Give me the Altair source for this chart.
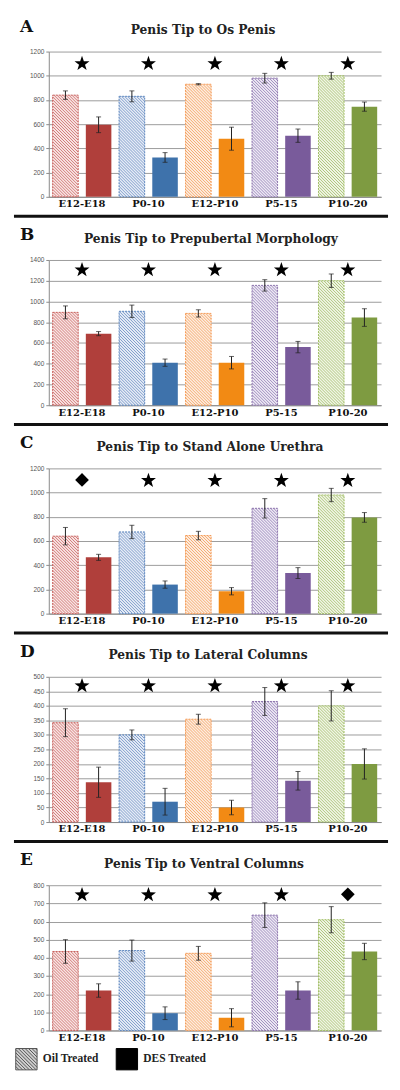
import math
import altair as alt
import pandas as pd

# ---------------- data ----------------
groups = ["E12-E18", "P0-10", "E12-P10", "P5-15", "P10-20"]
treatments = ["Oil", "DES"]

letters = ["A", "B", "C", "D", "E"]
titles = [
    "Penis Tip to Os Penis",
    "Penis Tip to Prepubertal Morphology",
    "Penis Tip to Stand Alone Urethra",
    "Penis Tip to Lateral Columns",
    "Penis Tip to Ventral Columns",
]

a_oil = [840, 830, 930, 980, 1000]
a_oil_err = [35, 45, 5, 40, 28]
a_des = [595, 325, 480, 505, 745]
a_des_err = [65, 40, 95, 55, 38]

b_oil = [895, 905, 885, 1155, 1200]
b_oil_err = [62, 60, 35, 55, 65]
b_des = [690, 410, 410, 560, 845]
b_des_err = [20, 35, 60, 55, 85]

c_oil = [640, 675, 645, 870, 980]
c_oil_err = [72, 55, 35, 80, 55]
c_des = [465, 240, 185, 335, 795]
c_des_err = [25, 30, 30, 45, 40]

d_oil = [342, 300, 354, 415, 400]
d_oil_err = [48, 17, 17, 48, 52]
d_des = [137, 70, 50, 142, 200]
d_des_err = [52, 46, 25, 32, 52]

e_oil = [435, 440, 425, 635, 610]
e_oil_err = [65, 58, 38, 68, 72]
e_des = [220, 95, 70, 220, 435]
e_des_err = [37, 35, 50, 48, 45]

a_ticks = [0, 200, 400, 600, 800, 1000, 1200]
b_ticks = [0, 200, 400, 600, 800, 1000, 1200, 1400]
c_ticks = [0, 200, 400, 600, 800, 1000, 1200]
d_ticks = [0, 50, 100, 150, 200, 250, 300, 350, 400, 450, 500]
e_ticks = [0, 100, 200, 300, 400, 500, 600, 700, 800]

a_marks = ["star", "star", "star", "star", "star"]
b_marks = ["star", "star", "star", "star", "star"]
c_marks = ["diamond", "star", "star", "star", "star"]
d_marks = ["star", "star", "star", "star", "star"]
e_marks = ["star", "star", "star", "star", "diamond"]
mark_y = [1105, 1310, 1105, 471, 750]

legend_labels = ["Oil Treated", "DES Treated"]

# ---------------- styles ----------------
W = 334
H = 146
SPACING = 63.5
des_colors = ["#B03F3B", "#3E72AB", "#F28A14", "#795B9B", "#7E9B41"]
oil_border = ["#C8605C", "#5F88C0", "#F59A55", "#8C74AC", "#A2BE66"]
oil_line = ["#D27C7A", "#809DCB", "#F4AA70", "#A08EBE", "#AFC67E"]
oil_bg = ["#F8E4E3", "#E6ECF6", "#FDEDE0", "#EDE9F4", "#F0F5E5"]

SERIF = "DejaVu Serif"
SANS = "Liberation Sans"

# band geometry (shared by the band scales and the hatch decoration)
P_IN, P_OUT = 0.23, 0.117
step_group = W / len(groups)
step_off = step_group / (2 - P_IN + 2 * P_OUT)
BAR_W = step_off * (1 - P_IN)
OIL_X0 = P_OUT * step_off          # start of the oil bar inside its group, px
HATCH_PERIOD = 3.0                 # horizontal distance between hatch lines, px


def star_path(n=5, inner=0.40):
    pts = []
    for i in range(2 * n):
        r = 1.0 if i % 2 == 0 else inner
        a = -math.pi / 2 + i * math.pi / n
        pts.append((r * math.cos(a), r * math.sin(a) + 0.08))
    return "M" + "L".join(f"{x:.3f},{y:.3f}" for x, y in pts) + "Z"


def hatch_path(step=0.32):
    d = "M-1,-1L1,-1L1,1L-1,1Z"
    c = -2 + step
    while c < 2 - 1e-6:
        if c >= 0:
            x1, y1, x2, y2 = -1 + c, -1, 1, 1 - c
        else:
            x1, y1, x2, y2 = -1, -1 - c, 1 + c, 1
        d += f"M{x1:.2f},{y1:.2f}L{x2:.2f},{y2:.2f}"
        c += step
    return d


STAR = star_path()
HATCH = hatch_path()


def hatch_rows(oil, ymax):
    """Diagonal hatch segments inside each oil bar, derived from the bar values."""
    rows = []
    for i, (g, v) in enumerate(zip(groups, oil)):
        h = v / ymax * H
        x0 = i * step_group + OIL_X0
        m = 0
        while True:
            c = HATCH_PERIOD * (m + 0.5)
            if c >= BAR_W + h:
                break
            xa, xb = max(0.0, c - h), min(BAR_W, c)
            va, vb = c - xa, c - xb
            rows.append({
                "group": g,
                "hx": (x0 + xa) / step_group,
                "hx2": (x0 + xb) / step_group,
                "hy": va / H * ymax,
                "hy2": vb / H * ymax,
            })
            m += 1
    return pd.DataFrame(rows)


def panel(idx, oil, oil_err, des, des_err, ticks, marks, my, separator=True, legend=False):
    ymax = ticks[-1]
    df = pd.DataFrame({
        "group": groups * 2,
        "treatment": ["Oil"] * 5 + ["DES"] * 5,
        "value": oil + des,
        "err": oil_err + des_err,
    })
    base = alt.Chart(df).transform_calculate(
        lo="datum.value - datum.err", hi="datum.value + datum.err"
    )
    x_scale = alt.Scale(domain=groups, paddingInner=0, paddingOuter=0)
    x_enc = alt.X(
        "group:N",
        sort=groups,
        scale=x_scale,
        axis=alt.Axis(
            title=None, labelAngle=0, ticks=False, labelFont=SERIF, labelFontWeight="bold",
            labelFontSize=10, labelColor="#111", labelPadding=2, domainColor="#8a8a8a",
            grid=False,
        ),
    )
    x_enc_noaxis = alt.X("group:N", sort=groups, scale=x_scale, axis=None)
    xo_enc = alt.XOffset(
        "treatment:N",
        scale=alt.Scale(domain=treatments, paddingInner=P_IN, paddingOuter=P_OUT),
    )
    y_scale = alt.Scale(domain=[0, ymax], nice=False, zero=True)
    y_axis = alt.Axis(
        title=None, values=ticks, format="d", labelFont=SANS, labelFontSize=6.5,
        labelColor="#555", labelPadding=2, tickSize=3, tickColor="#8a8a8a",
        domainColor="#8a8a8a", grid=True, gridColor="#9c9c9c", gridWidth=1,
        labelOverlap=False, labelFlush=False,
    )

    def Y(field):
        return alt.Y(field, scale=y_scale, axis=y_axis)

    # oil bars: light background (no x axis here; the axis comes from the top layer)
    inner = (
        base.transform_filter(alt.datum.treatment == "Oil")
        .mark_bar(strokeWidth=0)
        .encode(
            x=x_enc_noaxis, xOffset=xo_enc, y=Y("value:Q"),
            color=alt.Color("group:N", scale=alt.Scale(domain=groups, range=oil_bg), legend=None),
        )
    )

    # hatch lines (own linear x scale in group units)
    hdf = hatch_rows(oil, ymax)
    hatch_layers = []
    for i, g in enumerate(groups):
        hatch_layers.append(
            alt.Chart(hdf).transform_filter(alt.datum.group == g)
            .mark_rule(color=oil_line[i], strokeWidth=1)
            .encode(
                x=alt.X("hx:Q", scale=alt.Scale(domain=[0, len(groups)], nice=False, zero=False), axis=None),
                x2="hx2:Q",
                y=Y("hy:Q"),
                y2="hy2:Q",
            )
        )
    hatch = alt.layer(*hatch_layers)

    top = []
    # dashed outline of each oil bar
    for i, g in enumerate(groups):
        top.append(
            base.transform_filter((alt.datum.group == g) & (alt.datum.treatment == "Oil"))
            .mark_bar(fillOpacity=0, stroke=oil_border[i], strokeWidth=1, strokeDash=[2, 1])
            .encode(x=x_enc, xOffset=xo_enc, y=Y("value:Q"))
        )
    # solid DES bars
    for i, g in enumerate(groups):
        top.append(
            base.transform_filter((alt.datum.group == g) & (alt.datum.treatment == "DES"))
            .mark_bar(fill=des_colors[i], strokeWidth=0)
            .encode(x=x_enc, xOffset=xo_enc, y=Y("value:Q"))
        )
    # error bars
    top.append(
        base.mark_rule(color="#222", strokeWidth=1).encode(
            x=x_enc, xOffset=xo_enc, y=Y("lo:Q"), y2="hi:Q"
        )
    )
    for fld in ["lo", "hi"]:
        top.append(
            base.mark_tick(orient="horizontal", color="#222", size=5, thickness=1).encode(
                x=x_enc, xOffset=xo_enc, y=Y(f"{fld}:Q")
            )
        )
    # significance markers
    mdf = pd.DataFrame({"group": groups, "mk": marks, "my": [my] * 5})
    mbase = alt.Chart(mdf)
    top.append(
        mbase.transform_filter(alt.datum.mk == "star")
        .mark_point(shape=STAR, filled=True, color="black", size=250, opacity=1)
        .encode(x=x_enc, y=Y("my:Q"))
    )
    top.append(
        mbase.transform_filter(alt.datum.mk == "diamond")
        .mark_point(shape="diamond", filled=True, color="black", size=190, opacity=1)
        .encode(x=x_enc, y=Y("my:Q"))
    )
    # panel letter and title
    tdf = pd.DataFrame({"letter": [letters[idx]], "title": [titles[idx]]})
    top.append(
        alt.Chart(tdf).mark_text(
            font=SERIF, fontWeight="bold", fontSize=17, align="left", baseline="alphabetic",
            color="#111",
        ).encode(text="letter:N", x=alt.value(-29), y=alt.value(-20))
    )
    title_cx = [155, 163, 162, 160, 156][idx]
    top.append(
        alt.Chart(tdf).mark_text(
            font=SERIF, fontWeight="bold", fontSize=12.3, align="center", baseline="alphabetic",
            color="#222",
        ).encode(text="title:N", x=alt.value(title_cx), y=alt.value(-17.5))
    )
    if separator:
        top.append(
            alt.Chart(tdf).mark_rule(color="#111", strokeWidth=3).encode(
                x=alt.value(-35), x2=alt.value(W + 7), y=alt.value(H + 19.5)
            )
        )
    if legend:
        ldf = pd.DataFrame({"treatment": legend_labels})
        lg = alt.Legend(
            title=None, orient="none", legendX=-34, legendY=4 * (H + SPACING) + H + 17,
            direction="horizontal",
            symbolSize=460, symbolStrokeWidth=1, labelFont="Liberation Serif",
            labelFontWeight="bold", labelFontSize=11.5, labelColor="#222", labelOffset=5,
            columnPadding=14, symbolOpacity=1,
        )
        top.append(
            alt.Chart(ldf).transform_filter("false").mark_point(opacity=1).encode(
                shape=alt.Shape("treatment:N", scale=alt.Scale(domain=legend_labels, range=[HATCH, "square"]), legend=lg),
                fill=alt.Fill("treatment:N", scale=alt.Scale(domain=legend_labels, range=["#cfcfcf", "#000000"]), legend=lg),
                stroke=alt.Stroke("treatment:N", scale=alt.Scale(domain=legend_labels, range=["#555555", "#000000"]), legend=lg),
            )
        )
    upper = alt.layer(*top)
    return (
        alt.layer(inner, hatch, upper)
        .resolve_scale(x="independent")
        .resolve_axis(x="independent")
        .properties(width=W, height=H)
    )


panels = [
    panel(0, a_oil, a_oil_err, a_des, a_des_err, a_ticks, a_marks, mark_y[0]),
    panel(1, b_oil, b_oil_err, b_des, b_des_err, b_ticks, b_marks, mark_y[1]),
    panel(2, c_oil, c_oil_err, c_des, c_des_err, c_ticks, c_marks, mark_y[2]),
    panel(3, d_oil, d_oil_err, d_des, d_des_err, d_ticks, d_marks, mark_y[3]),
    panel(4, e_oil, e_oil_err, e_des, e_des_err, e_ticks, e_marks, mark_y[4], separator=False, legend=True),
]

chart = (
    alt.vconcat(*panels, spacing=SPACING, bounds="flush")
    .properties(padding={"left": 4, "top": 7, "right": 2, "bottom": 2}, background="white")
    .configure_view(stroke=None)
)

chart.save("out.html", embed_options={"renderer": "svg", "actions": False})
